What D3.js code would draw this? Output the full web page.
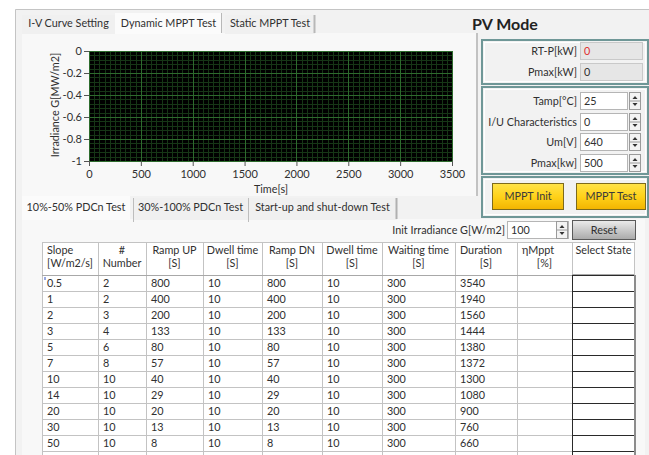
<!DOCTYPE html>
<html>
<head>
<meta charset="utf-8">
<script src="https://cdn.jsdelivr.net/npm/d3@7"></script>
<style>
body { margin: 0; background: #fff; }
svg text { font-family: Lato, "Noto Sans", sans-serif; font-size: 10.8px; fill: #303030; }
</style>
</head>
<body>
<script>
// ---- data ----
const topTabs = ['I-V Curve Setting', 'Dynamic MPPT Test', 'Static MPPT Test'];
const subTabs = ['10%-50% PDCn Test', '30%-100% PDCn Test', 'Start-up and shut-down Test'];
const xTicks = [0, 500, 1000, 1500, 2000, 2500, 3000, 3500];
const yTicks = [0, -0.2, -0.4, -0.6, -0.8, -1];
const indicators = ['RT-P[kW]', 'Pmax[kW]'];
const indicatorValues = ['0', '0'];
const controls = ['Tamp[°C]', 'I/U Characteristics', 'Um[V]', 'Pmax[kw]'];
const controlValues = ['25', '0', '640', '500'];
const buttons = ['MPPT Init', 'MPPT Test'];
const initIrradiance = '100';

const header1 = ['Slope', '#', 'Ramp UP', 'Dwell time', 'Ramp DN', 'Dwell time', 'Waiting time', 'Duration', 'ηMppt', 'Select State'];
const header2 = ['[W/m2/s]', 'Number', '[S]', '[S]', '[S]', '[S]', '[S]', '[S]', '[%]', ''];
const slope    = [0.5, 1, 2, 3, 5, 7, 10, 14, 20, 30, 50];
const number   = [2, 2, 3, 4, 6, 8, 10, 10, 10, 10, 10];
const rampUp   = [800, 400, 200, 133, 80, 57, 40, 29, 20, 13, 8];
const dwellUp  = [10, 10, 10, 10, 10, 10, 10, 10, 10, 10, 10];
const rampDn   = [800, 400, 200, 133, 80, 57, 40, 29, 20, 13, 8];
const dwellDn  = [10, 10, 10, 10, 10, 10, 10, 10, 10, 10, 10];
const waiting  = [300, 300, 300, 300, 300, 300, 300, 300, 300, 300, 300];
const duration = [3540, 1940, 1560, 1444, 1380, 1372, 1300, 1080, 900, 760, 660];

// ---- layout ----
const W = 649, H = 455;
const svg = d3.select('body').append('svg')
    .attr('width', W).attr('height', H)
    .attr('viewBox', [0, 0, W, H]);

const defs = svg.append('defs');
function gradient(id, stops) {
    const g = defs.append('linearGradient').attr('id', id)
        .attr('x1', 0).attr('y1', 0).attr('x2', 0).attr('y2', 1);
    stops.forEach(([o, c]) => g.append('stop').attr('offset', o).attr('stop-color', c));
}
gradient('yellow', [[0, '#ffe34a'], [0.5, '#ffd21a'], [1, '#f2b400']]);
gradient('grey', [[0, '#ececec'], [1, '#a9a9a9']]);

function text(g, str, x, y, opts = {}) {
    const t = g.append('text').attr('x', x).attr('y', y).text(str);
    if (opts.anchor) t.attr('text-anchor', opts.anchor);
    if (opts.fill) t.style('fill', opts.fill);
    if (opts.size) t.style('font-size', opts.size);
    if (opts.weight) t.style('font-weight', opts.weight);
    return t;
}

function spinner(g, x, y, h) {
    g.append('rect').attr('x', x + 0.5).attr('y', y + 0.5).attr('width', 11).attr('height', h - 1)
        .attr('fill', '#f3f3f3').attr('stroke', '#9a9a9a');
    g.append('line').attr('x1', x + 1).attr('x2', x + 11).attr('y1', y + h / 2).attr('y2', y + h / 2)
        .attr('stroke', '#9a9a9a');
    const cx = x + 6;
    g.append('path').attr('d', `M${cx - 2.5},${y + h / 2 - 2} L${cx + 2.5},${y + h / 2 - 2} L${cx},${y + h / 2 - 5} Z`).attr('fill', '#333');
    g.append('path').attr('d', `M${cx - 2.5},${y + h / 2 + 2} L${cx + 2.5},${y + h / 2 + 2} L${cx},${y + h / 2 + 5} Z`).attr('fill', '#333');
}

// panel background
svg.append('rect').attr('x', 15).attr('y', 9).attr('width', W - 15).attr('height', H - 9).attr('fill', '#f2f2f2');
svg.append('path').attr('d', `M15.5,${H} V9.5 H${W}`).attr('fill', 'none').attr('stroke', '#c4c4c4');

// ---- top tab control ----
const topTab = svg.append('g');
const topTabX = [22, 115, 225], topTabW = [93, 107, 90];
topTab.append('rect').attr('x', 22).attr('y', 33).attr('width', 455).attr('height', 163).attr('fill', '#f8f8f8');
topTab.append('line').attr('x1', 477).attr('x2', 477).attr('y1', 33).attr('y2', 196).attr('stroke', '#c2c2c2').attr('stroke-width', 2);
topTabs.forEach((t, i) => {
    const sel = i === 1;
    const y0 = sel ? 13 : 15;
    topTab.append('rect').attr('x', topTabX[i]).attr('y', y0).attr('width', topTabW[i]).attr('height', 34 - y0)
        .attr('fill', sel ? '#fbfbfb' : '#f0f0f0');
    if (i > 0) topTab.append('line').attr('x1', topTabX[i] + topTabW[i] - 0.5).attr('x2', topTabX[i] + topTabW[i] - 0.5)
        .attr('y1', y0).attr('y2', 33).attr('stroke', '#b8b8b8').attr('stroke-width', i === 2 ? 2 : 1);
    text(topTab, t, topTabX[i] + topTabW[i] / 2, 27, { anchor: 'middle' });
});
text(svg, 'PV Mode', 505, 30, { anchor: 'middle', size: '16px', weight: 'bold', fill: '#222' });

// ---- graph ----
const x = d3.scaleLinear().domain([0, 3500]).range([89, 452]);
const y = d3.scaleLinear().domain([-1, 0]).range([161, 51]);
const graph = svg.append('g');
graph.append('rect').attr('x', x(0)).attr('y', y(0)).attr('width', x(3500) - x(0)).attr('height', y(-1) - y(0)).attr('fill', '#000');

const minorX = d3.range(0, 3501, 50), minorY = d3.range(-1, 0.0001, 0.04);
graph.append('g').selectAll('line').data(minorX).join('line')
    .attr('x1', d => Math.round(x(d)) + 0.5).attr('x2', d => Math.round(x(d)) + 0.5)
    .attr('y1', y(0)).attr('y2', y(-1)).attr('stroke', '#163616');
graph.append('g').selectAll('line').data(minorY).join('line')
    .attr('y1', d => Math.round(y(d)) + 0.5).attr('y2', d => Math.round(y(d)) + 0.5)
    .attr('x1', x(0)).attr('x2', x(3500)).attr('stroke', '#163616');
graph.append('g').selectAll('line').data(xTicks).join('line')
    .attr('x1', d => Math.round(x(d)) + 0.5).attr('x2', d => Math.round(x(d)) + 0.5)
    .attr('y1', y(0)).attr('y2', y(-1)).attr('stroke', '#2d6b2d');
graph.append('g').selectAll('line').data(yTicks).join('line')
    .attr('y1', d => Math.round(y(d)) + 0.5).attr('y2', d => Math.round(y(d)) + 0.5)
    .attr('x1', x(0)).attr('x2', x(3500)).attr('stroke', '#2d6b2d');

graph.append('g')
    .attr('transform', `translate(0,${y(-1)})`)
    .call(d3.axisBottom(x).tickValues(xTicks).tickSize(5).tickPadding(4).tickFormat(d => String(d)))
    .call(g => {
        g.select('.domain').remove();
        g.selectAll('.tick line').attr('stroke', '#555');
        g.selectAll('.tick text').style('fill', '#303030').style('font-size', '11px').attr('font-family', null);
    });
graph.append('g')
    .attr('transform', `translate(${x(0)},0)`)
    .call(d3.axisLeft(y).tickValues(yTicks).tickSize(5).tickPadding(2).tickFormat(d => String(d)))
    .call(g => {
        g.select('.domain').remove();
        g.selectAll('.tick line').attr('stroke', '#555');
        g.selectAll('.tick text').style('fill', '#303030').style('font-size', '11px').attr('font-family', null);
    });
text(graph, 'Time[s]', 271, 193, { anchor: 'middle' });
text(graph, 'Irradiance G[MW/m2]', 0, 0, { anchor: 'middle' })
    .attr('transform', 'translate(59,105) rotate(-90)');

// ---- right side boxes ----
const right = svg.append('g');
function box(y0, y1) {
    right.append('rect').attr('x', 482).attr('y', y0).attr('width', 166).attr('height', y1 - y0)
        .attr('fill', '#f2f2f2').attr('stroke', '#6f9797').attr('stroke-width', 2);
    right.append('rect').attr('x', 484.5).attr('y', y0 + 2.5).attr('width', 161).attr('height', y1 - y0 - 5)
        .attr('fill', 'none').attr('stroke', '#ffffff');
}
box(40, 84);
box(87, 174);
box(177, 217);

const indY = [42, 63];
indicators.forEach((lab, i) => {
    right.append('rect').attr('x', 580.5).attr('y', indY[i] + 0.5).attr('width', 62).attr('height', 17)
        .attr('fill', '#e6e6e6').attr('stroke', '#c9c9c9');
    text(right, lab, 577, indY[i] + 13, { anchor: 'end' });
    text(right, indicatorValues[i], 584, indY[i] + 13, { fill: i === 0 ? '#e03030' : '#303030' });
});

const ctlY = [92, 113, 133, 154];
controls.forEach((lab, i) => {
    right.append('rect').attr('x', 580.5).attr('y', ctlY[i] + 0.5).attr('width', 47).attr('height', 17)
        .attr('fill', '#fff').attr('stroke', '#b5b5b5');
    spinner(right, 629, ctlY[i], 18);
    text(right, lab, 577, ctlY[i] + 13, { anchor: 'end' });
    text(right, controlValues[i], 584, ctlY[i] + 13);
});
// the last control runs under the box border
right.append('line').attr('x1', 482).attr('x2', 648).attr('y1', 174).attr('y2', 174).attr('stroke', '#6f9797').attr('stroke-width', 2);

const btnX = [492, 576], btnW = [71, 69];
buttons.forEach((b, i) => {
    right.append('rect').attr('x', btnX[i] + 0.5).attr('y', 183.5).attr('width', btnW[i]).attr('height', 26)
        .attr('fill', 'url(#yellow)').attr('stroke', '#7d6a1c');
    text(right, b, btnX[i] + btnW[i] / 2 + 0.5, 200, { anchor: 'middle', fill: '#3a3a3a' });
});

// ---- lower tab control ----
const sub = svg.append('g');
const subTabX = [22, 133, 248], subTabW = [108, 115, 149];
sub.append('rect').attr('x', 22).attr('y', 219).attr('width', 623).attr('height', H - 219).attr('fill', '#f8f8f8');
subTabs.forEach((t, i) => {
    const sel = i === 0;
    const y0 = sel ? 196 : 198;
    sub.append('rect').attr('x', subTabX[i]).attr('y', y0).attr('width', subTabW[i]).attr('height', 220 - y0)
        .attr('fill', sel ? '#fbfbfb' : '#f0f0f0');
    if (i > 0) sub.append('line').attr('x1', subTabX[i] + 0.5).attr('x2', subTabX[i] + 0.5)
        .attr('y1', y0).attr('y2', 222).attr('stroke', '#bdbdbd');
    if (i === 2) sub.append('line').attr('x1', subTabX[i] + subTabW[i] - 0.5).attr('x2', subTabX[i] + subTabW[i] - 0.5)
        .attr('y1', y0).attr('y2', 219).attr('stroke', '#b0b0b0').attr('stroke-width', 2);
    text(sub, t, subTabX[i] + subTabW[i] / 2, 211, { anchor: 'middle' });
});

text(sub, 'Init Irradiance G[W/m2]', 505, 234, { anchor: 'end' });
sub.append('rect').attr('x', 507.5).attr('y', 221.5).attr('width', 61).attr('height', 17)
    .attr('fill', '#fff').attr('stroke', '#b5b5b5');
text(sub, initIrradiance, 511, 234);
spinner(sub, 556, 221, 18);
sub.append('rect').attr('x', 572.5).attr('y', 220.5).attr('width', 63).attr('height', 19)
    .attr('fill', 'url(#grey)').attr('stroke', '#5a5a5a');
text(sub, 'Reset', 604, 234, { anchor: 'middle' });

// ---- table ----
const table = sub.append('g');
const colEdges = [42, 98, 146, 203, 262, 322, 382, 455, 517, 572, 635];
const columns = [slope, number, rampUp, dwellUp, rampDn, dwellDn, waiting, duration];
const headerTop = 242, rowTop = 275, rowH = 16;
const rows = d3.scaleBand().domain(d3.range(slope.length + 1)).range([rowTop, rowTop + rowH * (slope.length + 1)]);

table.append('rect').attr('x', colEdges[0]).attr('y', headerTop).attr('width', colEdges[10] - colEdges[0])
    .attr('height', H - headerTop).attr('fill', '#fff');
// header
const headLeft = [true, false, false, false, false, false, false, true, true, false];
header1.forEach((h, i) => {
    const cx = (colEdges[i] + colEdges[i + 1]) / 2;
    if (headLeft[i]) text(table, h, colEdges[i] + 5, 254);
    else text(table, h, cx, 254, { anchor: 'middle' });
    if (header2[i]) text(table, header2[i], cx, 267, { anchor: 'middle' });
});
// cell values
columns.forEach((col, c) => {
    table.append('g').selectAll('text').data(col).join('text')
        .attr('x', colEdges[c] + 5)
        .attr('y', (d, r) => rows(r) + 12)
        .text(d => String(d));
});
// grid lines
table.append('g').selectAll('line').data(colEdges.slice(0, 10)).join('line')
    .attr('x1', d => d + 0.5).attr('x2', d => d + 0.5)
    .attr('y1', headerTop).attr('y2', H).attr('stroke', '#c3c3c3');
table.append('line').attr('x1', colEdges[0]).attr('x2', colEdges[10]).attr('y1', headerTop + 0.5).attr('y2', headerTop + 0.5).attr('stroke', '#c3c3c3');
table.append('g').selectAll('line').data(d3.range(slope.length + 1)).join('line')
    .attr('x1', colEdges[0]).attr('x2', colEdges[9])
    .attr('y1', r => rows(r) + 0.5).attr('y2', r => rows(r) + 0.5)
    .attr('stroke', (r) => r === 0 ? '#a8a8a8' : '#c3c3c3');
// select state cells
table.append('g').selectAll('rect').data(d3.range(slope.length + 1)).join('rect')
    .attr('x', colEdges[9] + 0.5).attr('y', r => rows(r) + 0.5)
    .attr('width', colEdges[10] - colEdges[9] - 1).attr('height', rowH)
    .attr('fill', '#fff').attr('stroke', '#2a2a2a');
table.append('line').attr('x1', colEdges[9]).attr('x2', colEdges[10]).attr('y1', rowTop - 0.5).attr('y2', rowTop - 0.5).attr('stroke', '#a8a8a8');
table.append('line').attr('x1', colEdges[10]).attr('x2', colEdges[10]).attr('y1', rowTop).attr('y2', H)
    .attr('stroke', '#8c8c8c').attr('stroke-width', 2);
table.append('line').attr('x1', colEdges[10] - 0.5).attr('x2', colEdges[10] - 0.5).attr('y1', headerTop).attr('y2', rowTop)
    .attr('stroke', '#c3c3c3');
// cursor mark in first cell
table.append('line').attr('x1', colEdges[0] + 3).attr('x2', colEdges[0] + 3).attr('y1', rowTop + 2).attr('y2', rowTop + 5)
    .attr('stroke', '#3050c0');
</script>
</body>
</html>
